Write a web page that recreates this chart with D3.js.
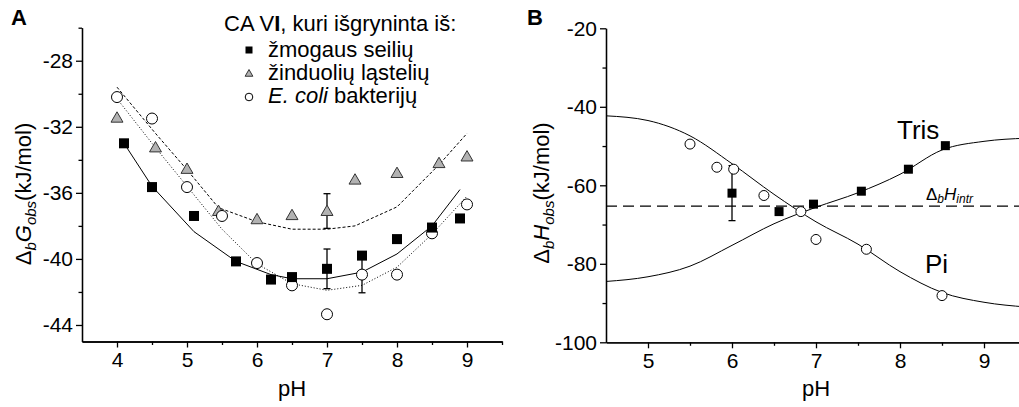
<!DOCTYPE html>
<html>
<head>
	<meta charset="utf-8">
	<title>CA VI : pH priklausomybė</title>
	<script src="https://d3js.org/d3.v7.min.js"></script>
	<style>
		body { margin: 0; background: #fff; }
		svg { display: block; font-family: Arial, "Liberation Sans", sans-serif; }
		.axis path, .axis line { stroke: #000; stroke-width: 1.3; }
		.axis text { font-size: 21px; fill: #000; font-family: Arial, "Liberation Sans", sans-serif; }
	</style>
</head>
<body>
	<svg width="1019" height="407"></svg>

<script>
	// ---- A: ΔbGobs (kJ/mol) vs pH ----
	const phHuman = [4.1, 4.5, 5.1, 5.7, 6.2, 6.5, 7.0, 7.5, 8.0, 8.5, 8.9];
	const dgHuman = [-33.0, -35.65, -37.4, -40.15, -41.25, -41.1, -40.6, -39.8, -38.8, -38.1, -37.55];
	const phMammal = [4.0, 4.55, 5.0, 5.45, 6.0, 6.5, 7.0, 7.4, 8.0, 8.6, 9.0];
	const dgMammal = [-31.45, -33.25, -34.55, -37.1, -37.6, -37.35, -37.1, -35.2, -34.8, -34.2, -33.8];
	const phEcoli = [4.0, 4.5, 5.0, 5.5, 6.0, 6.5, 7.0, 7.5, 8.0, 8.5, 9.0];
	const dgEcoli = [-30.2, -31.5, -35.65, -37.4, -40.25, -41.6, -43.35, -40.95, -40.95, -38.45, -36.7];

	// fitted lines
	const fitHumanPh = [4.1, 4.5, 5.1, 5.7, 6.2, 6.5, 7.0, 7.5, 8.0, 8.5, 8.9];
	const fitHumanDg = [-33.0, -35.6, -38.35, -40.15, -40.95, -41.2, -41.2, -40.8, -39.7, -38.0, -35.8];
	const fitMammalPh = [4.0, 4.55, 5.0, 5.45, 6.0, 6.5, 7.0, 7.4, 8.0, 8.6, 9.0];
	const fitMammalDg = [-29.6, -32.4, -34.6, -36.9, -37.75, -38.2, -38.2, -38.0, -36.85, -34.3, -32.4];
	const fitEcoliPh = [4.0, 4.5, 5.0, 5.5, 6.0, 6.5, 7.0, 7.5, 8.0, 8.5, 9.0];
	const fitEcoliDg = [-30.3, -33.0, -35.6, -38.2, -40.3, -41.5, -41.9, -41.6, -40.5, -38.5, -36.2];

	// error bars: [pH, value, ±]
	const errHuman = [[7.0, -40.6, 1.2]];
	const errMammal = [[7.0, -37.1, 1.05]];
	const errEcoli = [[7.5, -40.95, 1.1]];

	const legendTitle = ["CA V", "I", ", kuri išgryninta iš:"];
	const legendNames = ["žmogaus seilių", "žinduolių ląstelių", "E. coli", " bakterijų"];

	// ---- B: ΔbHobs (kJ/mol) vs pH ----
	const phPi = [5.5, 5.82, 6.02, 6.38, 6.82, 7.0, 7.6, 8.5];
	const dhPi = [-49.5, -55.4, -55.9, -62.6, -66.7, -73.8, -76.3, -88.1];
	const phTris = [6.0, 6.56, 6.97, 7.54, 8.1, 8.54];
	const dhTris = [-62.0, -66.7, -64.8, -61.5, -55.9, -49.9];
	const errTris = [[6.0, -62.0, 7.0]];

	const curvePh = [4.5, 5.0, 5.5, 6.0, 6.5, 7.0, 7.5, 8.0, 8.5, 9.0, 9.5];
	const curvePi = [-42.3, -43.5, -47.4, -54.5, -62.3, -69.3, -75.0, -82.0, -87.3, -89.8, -91.0];
	const curveTris = [-84.5, -83.3, -80.6, -75.3, -69.8, -65.6, -61.9, -57.2, -51.0, -48.8, -48.0];
	const dhIntr = -65.3;

	const svg = d3.select("svg");
	const plain = d => String(d);   // hyphen minus, like the original

	// ================= panel A =================
	const xA = d3.scaleLinear().domain([3.5, 9.5]).range([82, 502]);
	const yA = d3.scaleLinear().domain([-45, -26]).range([341.5, 27.7]);

	const gA = svg.append("g");

	gA.append("g").attr("class", "axis")
		.attr("transform", "translate(0," + yA(-45) + ")")
		.call(d3.axisBottom(xA).tickValues([4, 5, 6, 7, 8, 9]).tickSizeInner(6).tickSizeOuter(0).tickPadding(5).tickFormat(plain));
	gA.append("g").attr("class", "axis")
		.attr("transform", "translate(0," + yA(-45) + ")")
		.call(d3.axisBottom(xA).tickValues([4.5, 5.5, 6.5, 7.5, 8.5, 9.5]).tickSizeInner(3.5).tickSizeOuter(0).tickFormat(""));

	gA.append("g").attr("class", "axis")
		.attr("transform", "translate(" + xA(3.5) + ",0)")
		.call(d3.axisLeft(yA).tickValues([-44, -40, -36, -32, -28]).tickSizeInner(6).tickSizeOuter(0).tickPadding(3).tickFormat(plain));
	gA.append("g").attr("class", "axis")
		.attr("transform", "translate(" + xA(3.5) + ",0)")
		.call(d3.axisLeft(yA).tickValues([-42, -38, -34, -30, -26]).tickSizeInner(3.5).tickSizeOuter(0).tickFormat(""));

	const lineA = d3.line().x(d => xA(d[0])).y(d => yA(d[1]));

	gA.append("path").datum(d3.zip(fitMammalPh, fitMammalDg)).attr("d", lineA)
		.attr("fill", "none").attr("stroke", "#000").attr("stroke-width", 1).attr("stroke-dasharray", "3,2");
	gA.append("path").datum(d3.zip(fitEcoliPh, fitEcoliDg)).attr("d", lineA)
		.attr("fill", "none").attr("stroke", "#000").attr("stroke-width", 1).attr("stroke-dasharray", "1,2");
	gA.append("path").datum(d3.zip(fitHumanPh, fitHumanDg)).attr("d", lineA)
		.attr("fill", "none").attr("stroke", "#000").attr("stroke-width", 1);

	function errorBars(g, data, x, y, cap) {
		data.forEach(e => {
			const cx = x(e[0]);
			g.append("line").attr("x1", cx).attr("x2", cx).attr("y1", y(e[1] + e[2])).attr("y2", y(e[1] - e[2]))
				.attr("stroke", "#000").attr("stroke-width", 1.3);
			[e[1] + e[2], e[1] - e[2]].forEach(v => {
				g.append("line").attr("x1", cx - cap).attr("x2", cx + cap).attr("y1", y(v)).attr("y2", y(v))
					.attr("stroke", "#000").attr("stroke-width", 1.3);
			});
		});
	}
	errorBars(gA, errMammal, xA, yA, 3.5);
	errorBars(gA, errHuman, xA, yA, 3.5);
	errorBars(gA, errEcoli, xA, yA, 3.5);

	const tri = d3.symbol().type(d3.symbolTriangle).size(62);

	gA.selectAll(".mammal").data(d3.zip(phMammal, dgMammal)).enter()
		.append("path").attr("class", "mammal")
		.attr("d", tri)
		.attr("transform", d => "translate(" + xA(d[0]) + "," + (yA(d[1]) + 1) + ")")
		.attr("fill", "#b2b2b2").attr("stroke", "#333").attr("stroke-width", 1);

	gA.selectAll(".ecoli").data(d3.zip(phEcoli, dgEcoli)).enter()
		.append("circle").attr("class", "ecoli")
		.attr("cx", d => xA(d[0])).attr("cy", d => yA(d[1])).attr("r", 5.5)
		.attr("fill", "#fff").attr("stroke", "#000").attr("stroke-width", 1);

	gA.selectAll(".human").data(d3.zip(phHuman, dgHuman)).enter()
		.append("rect").attr("class", "human")
		.attr("x", d => xA(d[0]) - 5).attr("y", d => yA(d[1]) - 5)
		.attr("width", 10).attr("height", 10).attr("fill", "#000");

	// legend
	const lg = gA.append("g").style("font-size", "22px");
	const t0 = lg.append("text").attr("x", 224).attr("y", 31);
	t0.append("tspan").text(legendTitle[0]);
	t0.append("tspan").attr("font-weight", "bold").text(legendTitle[1]);
	t0.append("tspan").text(legendTitle[2]);

	lg.append("rect").attr("x", 245.5).attr("y", 46.5).attr("width", 7).attr("height", 7).attr("fill", "#000");
	lg.append("text").attr("x", 268).attr("y", 57).text(legendNames[0]);
	lg.append("path").attr("d", d3.symbol().type(d3.symbolTriangle).size(26))
		.attr("transform", "translate(249,74)").attr("fill", "#b2b2b2").attr("stroke", "#333").attr("stroke-width", 1);
	lg.append("text").attr("x", 268).attr("y", 80).text(legendNames[1]);
	lg.append("circle").attr("cx", 249).attr("cy", 97).attr("r", 3.8)
		.attr("fill", "#fff").attr("stroke", "#000").attr("stroke-width", 1);
	const t3 = lg.append("text").attr("x", 268).attr("y", 103);
	t3.append("tspan").attr("font-style", "italic").text(legendNames[2]);
	t3.append("tspan").text(legendNames[3]);

	// titles A
	svg.append("text").attr("x", 11).attr("y", 25).attr("font-weight", "bold").style("font-size", "22px").text("A");
	svg.append("text").attr("x", xA(6.5)).attr("y", 396).attr("text-anchor", "middle").style("font-size", "22px").text("pH");

	function yTitle(x, y, main) {
		const t = svg.append("text").attr("transform", "translate(" + x + "," + y + ") rotate(-90)")
			.attr("text-anchor", "middle").style("font-size", "22px");
		t.append("tspan").text("Δ");
		t.append("tspan").attr("font-style", "italic").attr("dy", 5).style("font-size", "15px").text("b");
		t.append("tspan").attr("font-style", "italic").attr("dy", -5).text(main);
		t.append("tspan").attr("font-style", "italic").attr("dy", 5).style("font-size", "15px").text("obs");
		t.append("tspan").attr("dy", -5).text("(kJ/mol)");
	}
	yTitle(31, 194, "G");

	// ================= panel B =================
	const xB = d3.scaleLinear().domain([4.5, 9.5]).range([606, 1026]);
	const yB = d3.scaleLinear().domain([-100, -20]).range([342.3, 28.3]);

	const gB = svg.append("g");

	gB.append("g").attr("class", "axis")
		.attr("transform", "translate(0," + yB(-100) + ")")
		.call(d3.axisBottom(xB).tickValues([5, 6, 7, 8, 9]).tickSizeInner(6).tickSizeOuter(0).tickPadding(5).tickFormat(plain));
	gB.append("g").attr("class", "axis")
		.attr("transform", "translate(0," + yB(-100) + ")")
		.call(d3.axisBottom(xB).tickValues([5.5, 6.5, 7.5, 8.5]).tickSizeInner(3.5).tickSizeOuter(0).tickFormat(""));

	gB.append("g").attr("class", "axis")
		.attr("transform", "translate(" + xB(4.5) + ",0)")
		.call(d3.axisLeft(yB).tickValues([-100, -80, -60, -40, -20]).tickSizeInner(6).tickSizeOuter(0).tickPadding(3).tickFormat(plain));
	gB.append("g").attr("class", "axis")
		.attr("transform", "translate(" + xB(4.5) + ",0)")
		.call(d3.axisLeft(yB).tickValues([-90, -70, -50, -30]).tickSizeInner(3.5).tickSizeOuter(0).tickFormat(""));

	const lineB = d3.line().x(d => xB(d[0])).y(d => yB(d[1])).curve(d3.curveMonotoneX);

	gB.append("path").datum(d3.zip(curvePh, curvePi)).attr("d", lineB)
		.attr("fill", "none").attr("stroke", "#000").attr("stroke-width", 1);
	gB.append("path").datum(d3.zip(curvePh, curveTris)).attr("d", lineB)
		.attr("fill", "none").attr("stroke", "#000").attr("stroke-width", 1);

	gB.append("line").attr("x1", xB(4.5)).attr("x2", xB(9.5)).attr("y1", yB(dhIntr)).attr("y2", yB(dhIntr))
		.attr("stroke", "#000").attr("stroke-width", 1.4).attr("stroke-dasharray", "11,6");

	errorBars(gB, errTris, xB, yB, 3.5);

	gB.selectAll(".pi").data(d3.zip(phPi, dhPi)).enter()
		.append("circle").attr("class", "pi")
		.attr("cx", d => xB(d[0])).attr("cy", d => yB(d[1])).attr("r", 5)
		.attr("fill", "#fff").attr("stroke", "#000").attr("stroke-width", 1);

	gB.selectAll(".tris").data(d3.zip(phTris, dhTris)).enter()
		.append("rect").attr("class", "tris")
		.attr("x", d => xB(d[0]) - 4.5).attr("y", d => yB(d[1]) - 4.5)
		.attr("width", 9).attr("height", 9).attr("fill", "#000");

	svg.append("text").attr("x", 897).attr("y", 139).style("font-size", "26px").text("Tris");
	svg.append("text").attr("x", 925).attr("y", 273).style("font-size", "26px").text("Pi");

	const hi = svg.append("text").attr("x", 926).attr("y", 200).style("font-size", "17px");
	hi.append("tspan").text("Δ");
	hi.append("tspan").attr("font-style", "italic").attr("dy", 3).style("font-size", "12px").text("b");
	hi.append("tspan").attr("font-style", "italic").attr("dy", -3).text("H");
	hi.append("tspan").attr("font-style", "italic").attr("dy", 3).style("font-size", "12px").text("intr");

	svg.append("text").attr("x", 527).attr("y", 25).attr("font-weight", "bold").style("font-size", "22px").text("B");
	svg.append("text").attr("x", xB(7)).attr("y", 396).attr("text-anchor", "middle").style("font-size", "22px").text("pH");
	yTitle(549, 193, "H");
</script>
</body>
</html>
